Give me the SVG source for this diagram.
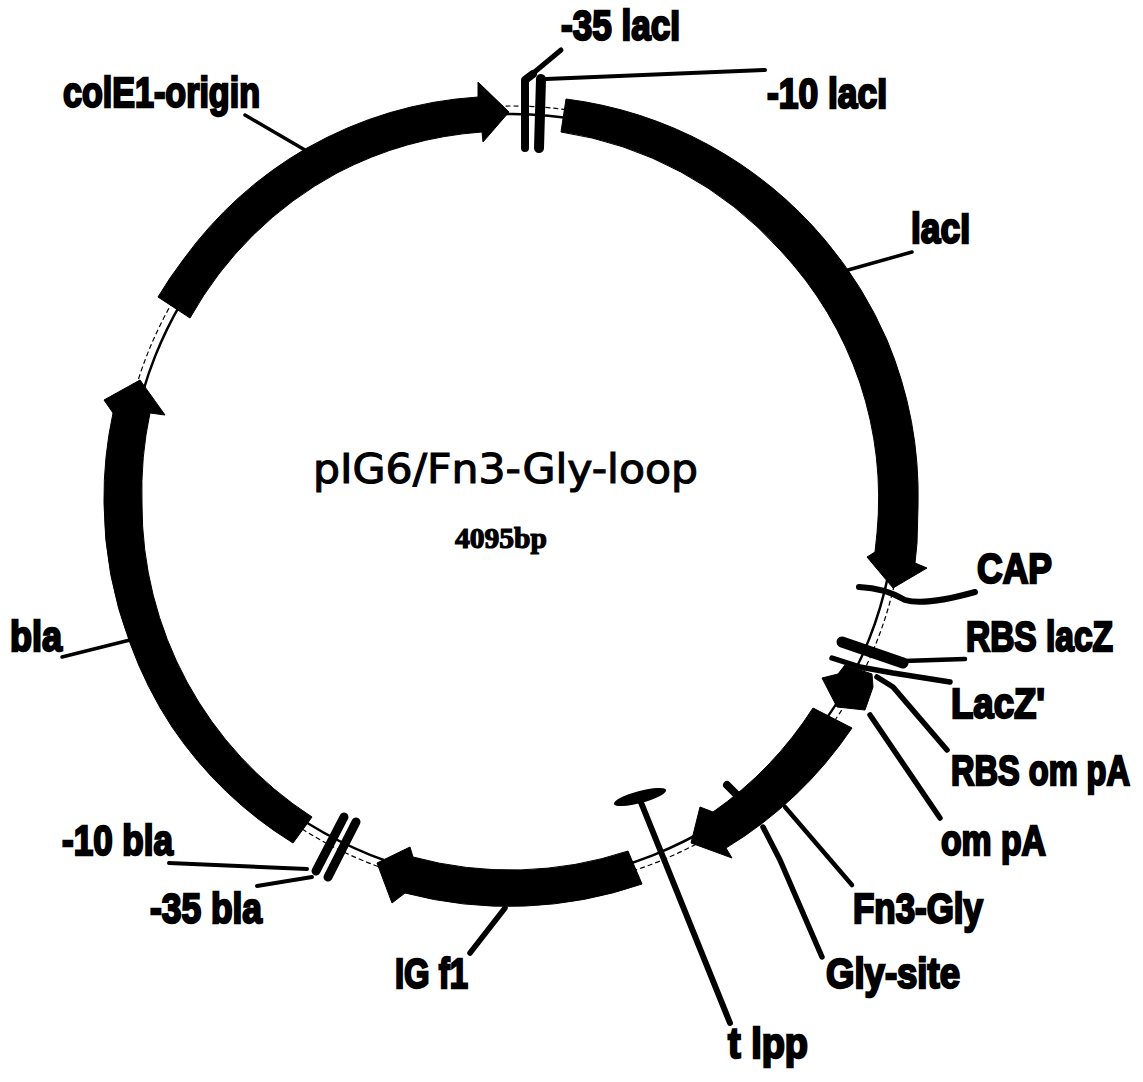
<svg xmlns="http://www.w3.org/2000/svg" width="1143" height="1082" viewBox="0 0 1143 1082">
<style>
.lb{font-family:"Liberation Sans",Arial,sans-serif;font-weight:700;font-size:34px;fill:#000;stroke:#000;stroke-width:1.9px}
.ln{fill:none;stroke:#000;stroke-linecap:round;stroke-linejoin:round}
.fill{fill:#000;stroke:#000;stroke-width:1;stroke-linejoin:round}
</style>
<rect width="1143" height="1082" fill="#fff"/>
<g id="backbone"><circle cx="512" cy="498" r="384" fill="none" stroke="#000" stroke-width="2.5"/><circle cx="512" cy="498" r="392" fill="none" stroke="#000" stroke-width="1.2" stroke-dasharray="5 3"/></g>
<g id="lacI"><path class="fill" d="M566 99A404 404 0 0 1 825 240A404 404 0 0 1 887 340A404 404 0 0 1 918 507L917 543L915 563L927 568L893 588L867 557L875 552L877 533A368 368 0 0 0 860 383A368 368 0 0 0 780 250A368 368 0 0 0 561 132Z"/><text class="lb" transform="translate(911 243) scale(1 1.25)" textLength="59" lengthAdjust="spacingAndGlyphs">lacI</text></g>
<g id="colE1-origin"><path class="fill" d="M158 297A400 400 0 0 1 183 260A400 400 0 0 1 307 148A400 400 0 0 1 478 97L478 82L509 112L483 142L482 132A370 370 0 0 0 337 173A370 370 0 0 0 190 318Z"/><text class="lb" transform="translate(63 107) scale(1 1.25)" textLength="197" lengthAdjust="spacingAndGlyphs">colE1-origin</text></g>
<g id="bla"><path class="fill" d="M113 413A400 400 0 0 0 104 503A400 400 0 0 0 130 643A400 400 0 0 0 172 727A400 400 0 0 0 293 843L312 817A372 372 0 0 1 142 503A370 370 0 0 1 150 413L165 415L140 380L104 400Z"/><text class="lb" transform="translate(10 651) scale(1 1.25)" textLength="52" lengthAdjust="spacingAndGlyphs">bla</text></g>
<g id="IG-f1"><path class="fill" d="M628 851A372 372 0 0 1 413 857L410 847L377 863L392 903L405 893A408 408 0 0 0 642 884Z"/><text class="lb" transform="translate(395 988) scale(1 1.25)" textLength="73" lengthAdjust="spacingAndGlyphs">IG f1</text></g>
<g id="Fn3-Gly"><path class="fill" d="M813 708A372 372 0 0 1 713 812L700 807L691 843L732 858L726 848A408 408 0 0 0 852 728Z"/><text class="lb" transform="translate(853 923) scale(1 1.25)" textLength="130" lengthAdjust="spacingAndGlyphs">Fn3-Gly</text></g>
<g id="Gly-site"><path class="ln" stroke-width="8" d="M727 785L738 796"/><text class="lb" transform="translate(826 988) scale(1 1.25)" textLength="134" lengthAdjust="spacingAndGlyphs">Gly-site</text></g>
<g id="ompA"><path class="fill" d="M822 678L838 674L845 665L872 674L873 687L865 710L837 707Z"/><text class="lb" transform="translate(941 855) scale(1 1.25)" textLength="105" lengthAdjust="spacingAndGlyphs">om pA</text></g>
<g id="t-lpp"><ellipse cx="640" cy="797" rx="27" ry="6" transform="rotate(-15 640 797)"/><text class="lb" transform="translate(728 1058) scale(1 1.25)" textLength="80" lengthAdjust="spacingAndGlyphs">t lpp</text></g>
<g id="minus35-lacI"><text class="lb" transform="translate(561 40) scale(1 1.25)" textLength="119" lengthAdjust="spacingAndGlyphs">-35 lacI</text></g>
<g id="minus10-lacI"><text class="lb" transform="translate(767 108) scale(1 1.25)" textLength="120" lengthAdjust="spacingAndGlyphs">-10 lacI</text></g>
<g id="CAP"><text class="lb" transform="translate(977 583) scale(1 1.25)" textLength="75" lengthAdjust="spacingAndGlyphs">CAP</text></g>
<g id="RBS-lacZ"><text class="lb" transform="translate(966 651) scale(1 1.25)" textLength="147" lengthAdjust="spacingAndGlyphs">RBS lacZ</text></g>
<g id="LacZ"><text class="lb" transform="translate(951 718) scale(1 1.25)" textLength="94" lengthAdjust="spacingAndGlyphs">LacZ'</text></g>
<g id="RBS-ompA"><text class="lb" transform="translate(951 785) scale(1 1.25)" textLength="179" lengthAdjust="spacingAndGlyphs">RBS om pA</text></g>
<g id="minus35-bla"><text class="lb" transform="translate(150 923) scale(1 1.25)" textLength="112" lengthAdjust="spacingAndGlyphs">-35 bla</text></g>
<g id="minus10-bla"><text class="lb" transform="translate(62 855) scale(1 1.25)" textLength="111" lengthAdjust="spacingAndGlyphs">-10 bla</text></g>
<g id="connectors">
<path class="ln" stroke-width="8" stroke-linecap="butt" d="M525 148L525 80L533 74"/>
<path class="ln" stroke-width="5" d="M531 75L561 50"/>
<path class="ln" stroke-width="10" stroke-linecap="butt" d="M539 148L541 79"/>
<path class="ln" stroke-width="4" d="M546 79L765 70"/>
<path class="ln" stroke-width="9" d="M344 817L316 871"/>
<path class="ln" stroke-width="9" d="M356 822L328 877"/>
<path class="ln" stroke-width="4" d="M169 863L307 869"/>
<path class="ln" stroke-width="4" d="M257 886L312 877"/>
<path class="ln" stroke-width="6" d="M859 587Q885 588 905 600Q925 606 975 592"/>
<path class="ln" stroke-width="11" d="M842 642L903 663"/>
<path class="ln" stroke-width="4.5" d="M903 661L965 659"/>
<path class="ln" stroke-width="5.5" d="M832 658L860 667L893 673L950 682"/>
<path class="ln" stroke-width="5.5" d="M877 677L893 687L947 750"/>
<path class="ln" stroke-width="5.5" d="M870 715L940 818"/>
<path class="ln" stroke-width="4.5" d="M785 807L852 885"/>
<path class="ln" stroke-width="5.5" d="M763 827L780 860L822 957"/>
<path class="ln" stroke-width="6" d="M640 800L730 1023"/>
<path class="ln" stroke-width="5.5" d="M505 908L470 953"/>
<path class="ln" stroke-width="3.5" d="M130 640L62 657"/>
<path class="ln" stroke-width="3.5" d="M245 115L305 150"/>
<path class="ln" stroke-width="3.5" d="M848 270L912 252"/>
</g>
<g id="title">
<text x="313" y="483" font-family="'DejaVu Sans',sans-serif" font-size="41" stroke="#000" stroke-width="1.1" textLength="385" lengthAdjust="spacingAndGlyphs">pIG6/Fn3-Gly-loop</text>
<text x="455" y="548" font-family="'Liberation Serif',serif" font-weight="700" font-size="29" stroke="#000" stroke-width="1.2" textLength="92" lengthAdjust="spacingAndGlyphs">4095bp</text>
</g>
</svg>
